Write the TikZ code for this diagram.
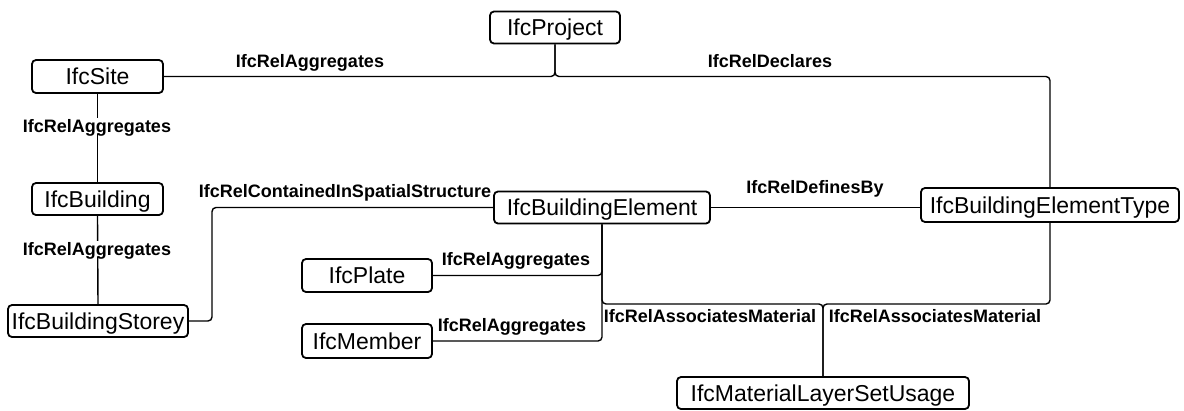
\documentclass[tikz,border=0pt]{standalone}
\usepackage{fontspec}
\setmainfont{Liberation Sans}
\usetikzlibrary{calc}
\tikzset{
  entity/.style={draw, line width=1.8pt, rounded corners=4pt, fill=white,
    inner sep=0pt, minimum height=32pt, text height=16.5pt, text depth=0pt,
    font=\fontsize{23}{26}\selectfont},
  rel/.style={font=\bfseries\fontsize{18}{20}\selectfont, inner sep=1.5pt,
    text height=13pt, text depth=0pt},
  link/.style={line width=1.4pt, rounded corners=4pt},
}
\begin{document}
\begin{tikzpicture}[x=1pt,y=-1pt]
\useasboundingbox (0,0) rectangle (1184,410);

% entities
\node[entity, minimum width=130pt] (proj)   at (555,27.5)  {IfcProject};
\node[entity, minimum width=131pt, minimum height=33pt] (site) at (97.5,76.5) {IfcSite};
\node[entity, minimum width=131pt] (bldg)   at (97.5,199)  {IfcBuilding};
\node[entity, minimum width=180pt] (storey) at (98,321)    {IfcBuildingStorey};
\node[entity, minimum width=216pt] (elem)   at (602,207.5) {IfcBuildingElement};
\node[entity, minimum width=258pt, minimum height=34pt] (type) at (1050,205) {IfcBuildingElementType};
\node[entity, minimum width=130pt, minimum height=33pt] (plate) at (367,275.5) {IfcPlate};
\node[entity, minimum width=130pt, minimum height=34pt] (member) at (367,341) {IfcMember};
\node[entity, minimum width=292pt] (mlsu)   at (823,393)   {IfcMaterialLayerSetUsage};

% bend points
\coordinate (decl) at (1050,76.5);
\coordinate (sc)   at (212,260);
\coordinate (mj)   at (823,304);

% connectors
\draw[link] (proj.south) |- (site.east);
\draw[link] (proj.south) |- (decl) -- (type.north);
\draw[link] (site.south) -- (bldg.north);
\draw[link] (bldg.south) -- (storey.north);
\draw[link] (storey.east) -| (sc) |- (elem.west);
\draw[link] (elem.east) -- (elem.east -| type.west);
\draw[link] (plate.east) -| (elem.south);
\draw[link] (member.east) -| (elem.south);
\draw[link] (elem.south) |- (mj) -- (mlsu.north);
\draw[link] (type.south) |- (mj) -- (mlsu.north);

% relationship labels
\node[rel] (l1)  at (310,61)  {IfcRelAggregates};
\node[rel] (l2)  at (770,61)  {IfcRelDeclares};
\node[rel, fill=white] (l3) at (97,126) {IfcRelAggregates};
\node[rel, fill=white] (l4) at (97,249) {IfcRelAggregates};
\node[rel] (l5)  at (345,191) {IfcRelContainedInSpatialStructure};
\node[rel] (l6)  at (815,187) {IfcRelDefinesBy};
\node[rel] (l7)  at (516,259) {IfcRelAggregates};
\node[rel] (l8)  at (512,325) {IfcRelAggregates};
\node[rel] (l9)  at (710,316) {IfcRelAssociatesMaterial};
\node[rel] (l10) at (935,316) {IfcRelAssociatesMaterial};
\end{tikzpicture}
\end{document}
